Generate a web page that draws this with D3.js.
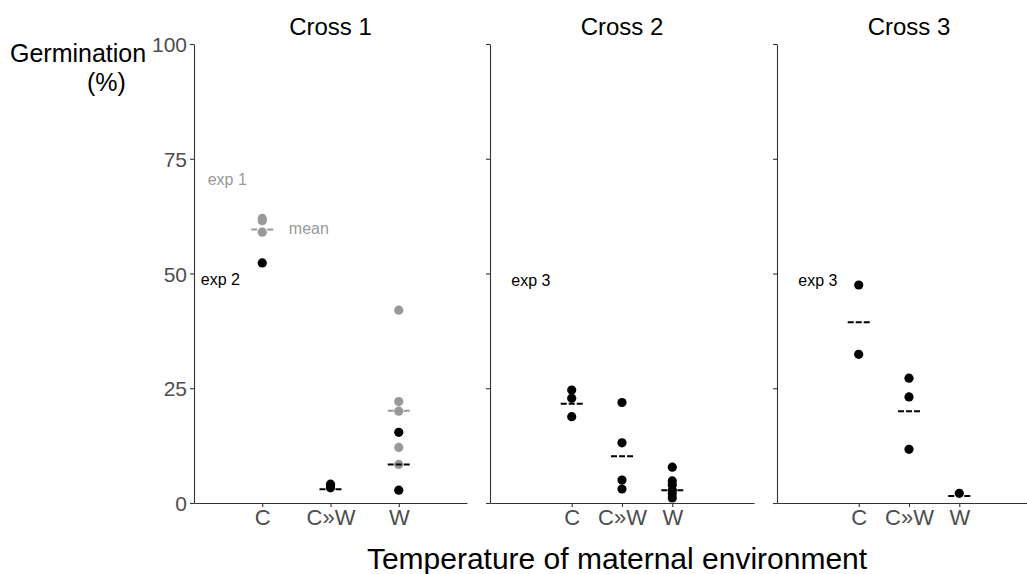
<!DOCTYPE html>
<html>
<head>
<meta charset="utf-8">
<script src="https://cdn.jsdelivr.net/npm/d3@7"></script>
<style>
  html, body { margin: 0; padding: 0; background: #fff; }
  svg { display: block; font-family: "Liberation Sans", Arial, sans-serif; }
</style>
</head>
<body>
<svg id="chart" width="1027" height="574"></svg>
<script>
// Maternal temperature treatments and crosses
const categories = ["C", "C»W", "W"];
const crosses = ["Cross 1", "Cross 2", "Cross 3"];
const yTicks = [0, 25, 50, 75, 100];

// Germination (%) of individual replicates: [cross, treatment, value]
const exp1Points = [
  [0, "C", 62.0], [0, "C", 61.5], [0, "C", 59.0],
  [0, "W", 42.0], [0, "W", 22.1], [0, "W", 20.0], [0, "W", 12.1], [0, "W", 8.4]
];
const exp2Points = [
  [0, "C", 52.3],
  [0, "C»W", 4.1], [0, "C»W", 3.7], [0, "C»W", 3.3],
  [0, "W", 15.4], [0, "W", 2.8]
];
const exp3Points = [
  [1, "C", 24.6], [1, "C", 22.8], [1, "C", 18.8],
  [1, "C»W", 21.9], [1, "C»W", 13.1], [1, "C»W", 5.0], [1, "C»W", 3.05],
  [1, "W", 7.8], [1, "W", 4.8], [1, "W", 3.9], [1, "W", 2.8], [1, "W", 2.0], [1, "W", 1.1],
  [2, "C", 47.5], [2, "C", 32.4],
  [2, "C»W", 27.2], [2, "C»W", 23.1], [2, "C»W", 11.7],
  [2, "W", 2.1]
];

// Treatment means: [cross, treatment, value]
const exp1Means = [[0, "C", 59.6], [0, "W", 20.1]];
const exp2Means = [[0, "C»W", 3.0], [0, "W", 8.4]];
const exp3Means = [
  [1, "C", 21.6], [1, "C»W", 10.2], [1, "W", 2.8],
  [2, "C", 39.4], [2, "C»W", 20.0], [2, "W", 1.5]
];

// Text labels inside panels: [cross, x (category units), y (%), text, series]
const panelNotes = [
  [0, -0.8, 69.3, "exp 1", "exp1"],
  [0, 0.39, 58.6, "mean", "exp1"],
  [0, -0.9, 47.5, "exp 2", "other"],
  [1, -1.2, 47.3, "exp 3", "other"],
  [2, -1.2, 47.3, "exp 3", "other"]
];

const grey = "#999999";
const colorOf = s => s === "exp1" ? grey : "#000000";

const svg = d3.select("#chart");

// Panel layout
const panels = [
  { left: 194, right: 467, pad: 1.0 },
  { left: 490, right: 754, pad: 1.625 },
  { left: 777, right: 1041, pad: 1.625 }
];
const y = d3.scaleLinear().domain([0, 100]).range([503, 44]);

panels.forEach(p => {
  p.x = d3.scaleLinear()
    .domain([-p.pad, categories.length - 1 + p.pad])
    .range([p.left, p.right]);
  p.cx = c => p.x(categories.indexOf(c));
});

svg.append("defs").append("clipPath").attr("id", "page")
  .append("rect").attr("x", 0).attr("y", 0).attr("width", 1027).attr("height", 574);

const root = svg.append("g").attr("clip-path", "url(#page)");

panels.forEach((p, i) => {
  const g = root.append("g");

  // y axis
  const yAxis = d3.axisLeft(y).tickValues(yTicks).tickSize(4).tickSizeOuter(0).tickPadding(3);
  const ya = g.append("g").attr("transform", `translate(${p.left},0)`).call(yAxis);
  if (i > 0) ya.selectAll(".tick text").remove();

  // x axis
  const xAxis = d3.axisBottom(p.x)
    .tickValues(categories.map((c, k) => k))
    .tickFormat(k => categories[k])
    .tickSize(4).tickSizeOuter(0).tickPadding(2);
  const xa = g.append("g").attr("transform", `translate(0,${y(0)})`).call(xAxis);

  [ya, xa].forEach(a => {
    a.select(".domain").attr("stroke", "#333333").attr("stroke-width", 1.1);
    a.selectAll(".tick line").attr("stroke", "#333333").attr("stroke-width", 1.1);
    a.selectAll(".tick text").attr("fill", "#4d4d4d")
      .attr("font-family", "'Liberation Sans', Arial, sans-serif");
  });
  ya.selectAll(".tick text").attr("font-size", 21).attr("dy", "0.36em");
  xa.selectAll(".tick text").attr("font-size", 22).attr("dy", "0.71em");

  // panel title
  g.append("text")
    .attr("x", (p.left + p.right) / 2)
    .attr("y", 35)
    .attr("text-anchor", "middle")
    .attr("font-size", 24)
    .attr("fill", "#000")
    .text(crosses[i]);
});

// Mean dashes
function drawMeans(data, color) {
  root.append("g").selectAll("line").data(data).join("line")
    .attr("x1", d => panels[d[0]].cx(d[1]) - 11)
    .attr("x2", d => panels[d[0]].cx(d[1]) + 11)
    .attr("y1", d => y(d[2]))
    .attr("y2", d => y(d[2]))
    .attr("stroke", color)
    .attr("stroke-width", 2)
    .attr("stroke-dasharray", "6,2");
}

// Replicate points
function drawPoints(data, color) {
  root.append("g").selectAll("circle").data(data).join("circle")
    .attr("cx", d => panels[d[0]].cx(d[1]))
    .attr("cy", d => y(d[2]))
    .attr("r", 4.6)
    .attr("fill", color);
}

drawPoints(exp1Points, grey);
drawMeans(exp1Means, grey);
drawPoints(exp2Points, "#000");
drawMeans(exp2Means, "#000");
drawPoints(exp3Points, "#000");
drawMeans(exp3Means, "#000");

// In-panel labels
root.append("g").selectAll("text").data(panelNotes).join("text")
  .attr("x", d => panels[d[0]].x(d[1]))
  .attr("y", d => y(d[2]))
  .attr("font-size", 16)
  .attr("fill", d => colorOf(d[4]))
  .text(d => d[3]);

// Axis titles
svg.append("text")
  .attr("x", 10).attr("y", 62)
  .attr("font-size", 25).attr("fill", "#000")
  .text("Germination");
svg.append("text")
  .attr("x", 87).attr("y", 91)
  .attr("font-size", 25).attr("fill", "#000")
  .text("(%)");

svg.append("text")
  .attr("x", 617).attr("y", 569)
  .attr("text-anchor", "middle")
  .attr("font-size", 30).attr("fill", "#000")
  .text("Temperature of maternal environment");
</script>
</body>
</html>
